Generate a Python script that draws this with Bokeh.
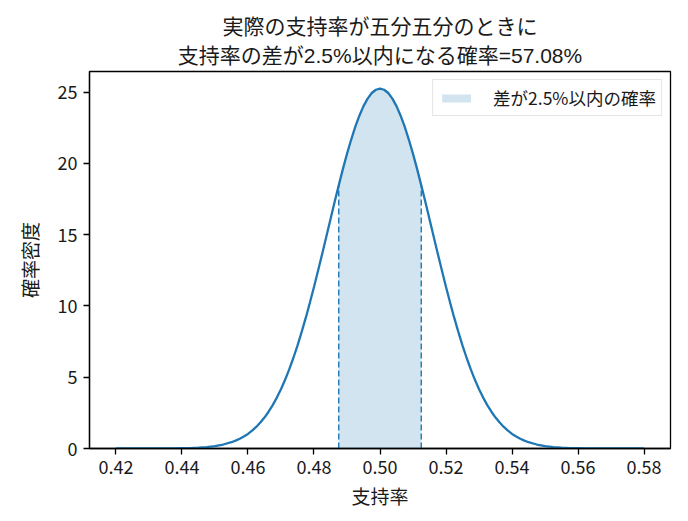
from bokeh.plotting import figure
from bokeh.models import Range1d, FixedTicker, Legend, LegendItem, CustomJSTickFormatter, Title
from bokeh.embed import file_html
from bokeh.resources import INLINE

# --- data ---
support = [0.4200, 0.4225, 0.4250, 0.4275, 0.4300, 0.4325, 0.4350, 0.4375, 0.4400, 0.4425,
           0.4450, 0.4475, 0.4500, 0.4525, 0.4550, 0.45625, 0.4575, 0.45875, 0.4600, 0.46125,
           0.4625, 0.46375, 0.4650, 0.46625, 0.4675, 0.46875, 0.4700, 0.47125, 0.4725, 0.47375,
           0.4750, 0.47625, 0.4775, 0.47875, 0.4800, 0.48125, 0.4825, 0.48375, 0.4850, 0.48625,
           0.4875, 0.48875, 0.4900, 0.49125, 0.4925, 0.49375, 0.4950, 0.49625, 0.4975, 0.49875,
           0.5000,
           0.50125, 0.5025, 0.50375, 0.5050, 0.50625, 0.5075, 0.50875, 0.5100, 0.51125, 0.5125,
           0.51375, 0.5150, 0.51625, 0.5175, 0.51875, 0.5200, 0.52125, 0.5225, 0.52375, 0.5250,
           0.52625, 0.5275, 0.52875, 0.5300, 0.53125, 0.5325, 0.53375, 0.5350, 0.53625, 0.5375,
           0.53875, 0.5400, 0.54125, 0.5425, 0.54375, 0.5450, 0.5475, 0.5500, 0.5525, 0.5550,
           0.5575, 0.5600, 0.5625, 0.5650, 0.5675, 0.5700, 0.5725, 0.5750, 0.5775, 0.5800]
density = [0.00, 0.00, 0.00, 0.00, 0.00, 0.00, 0.00, 0.01, 0.02, 0.03,
           0.06, 0.10, 0.17, 0.28, 0.44, 0.55, 0.68, 0.84, 1.02, 1.25,
           1.51, 1.82, 2.17, 2.58, 3.04, 3.57, 4.16, 4.82, 5.55, 6.35,
           7.22, 8.16, 9.16, 10.22, 11.33, 12.49, 13.67, 14.88, 16.09, 17.29,
           18.46, 19.60, 20.67, 21.66, 22.56, 23.35, 24.02, 24.55, 24.94, 25.17,
           25.25,
           25.17, 24.94, 24.55, 24.02, 23.35, 22.56, 21.66, 20.67, 19.60, 18.46,
           17.29, 16.09, 14.88, 13.67, 12.49, 11.33, 10.22, 9.16, 8.16, 7.22,
           6.35, 5.55, 4.82, 4.16, 3.57, 3.04, 2.58, 2.17, 1.82, 1.51,
           1.25, 1.02, 0.84, 0.68, 0.55, 0.44, 0.28, 0.17, 0.10, 0.06,
           0.03, 0.02, 0.01, 0.00, 0.00, 0.00, 0.00, 0.00, 0.00, 0.00]
band_lo = 0.4875
band_hi = 0.5125
x_ticks = [0.42, 0.44, 0.46, 0.48, 0.50, 0.52, 0.54, 0.56, 0.58]
y_ticks = [0, 5, 10, 15, 20, 25]
title_line1 = "実際の支持率が五分五分のときに"
title_line2 = "支持率の差が2.5%以内になる確率=57.08%"
x_label = "支持率"
y_label = "確率密度"
legend_label = "差が2.5%以内の確率"

FONT = "Noto Sans CJK JP"
TITLE_FONT = "'Liberation Sans', 'Noto Sans CJK JP'"
C0 = "#1f77b4"
TXT = "#1a1a1a"

p = figure(width=680, height=513, output_backend="svg", toolbar_location=None,
           x_range=Range1d(0.412, 0.588), y_range=Range1d(0, 26.45),
           min_border_left=89, min_border_right=10, min_border_top=71, min_border_bottom=65)

# two-line centred title (the later-added Title sits closer to the frame)
p.title.text = title_line1
p.title.text_font = TITLE_FONT
p.title.text_font_size = "21px"
p.title.text_font_style = "normal"
p.title.text_color = TXT
p.title.align = "center"
p.title.standoff = 0
p.add_layout(Title(text=title_line2, text_font=TITLE_FONT, text_font_size="21px",
                   text_font_style="normal", text_color=TXT, align="center",
                   standoff=9), "above")

p.grid.visible = False
p.outline_line_color = "black"
p.outline_line_width = 1.3

for ax in (p.xaxis[0], p.yaxis[0]):
    ax.axis_line_color = "black"
    ax.axis_line_width = 1.3
    ax.major_tick_in = 0
    ax.major_tick_out = 6
    ax.major_tick_line_width = 1.3
    ax.minor_tick_line_color = None
    ax.major_label_text_font = FONT
    ax.major_label_text_font_size = "18px"
    ax.major_label_text_color = TXT
    ax.axis_label_text_font = FONT
    ax.axis_label_text_font_size = "19px"
    ax.axis_label_text_font_style = "normal"
    ax.axis_label_text_color = TXT

p.xaxis.ticker = FixedTicker(ticks=x_ticks)
p.xaxis.formatter = CustomJSTickFormatter(code="return tick.toFixed(2);")
p.xaxis.axis_label = x_label
p.xaxis.major_label_standoff = 5
p.xaxis.axis_label_standoff = 5

p.yaxis.ticker = FixedTicker(ticks=y_ticks)
p.yaxis.axis_label = y_label
p.yaxis.major_label_standoff = 6
p.yaxis.axis_label_standoff = 12

# shaded band
bx = [x for x in support if band_lo - 1e-9 <= x <= band_hi + 1e-9]
by = [d for x, d in zip(support, density) if band_lo - 1e-9 <= x <= band_hi + 1e-9]
band = p.varea(x=bx, y1=[0] * len(bx), y2=by, fill_color=C0, fill_alpha=0.2)

# curve
p.line(support, density, line_color=C0, line_width=2.3)

# dashed bounds
p.segment(x0=[bx[0], bx[-1]], y0=[0, 0], x1=[bx[0], bx[-1]], y1=[by[0], by[-1]],
          line_color=C0, line_width=1.4, line_dash="6 3")

legend = Legend(items=[LegendItem(label=legend_label, renderers=[band])],
                location="top_right", margin=8, padding=5, spacing=0,
                glyph_width=36, glyph_height=10, label_height=20, label_standoff=19,
                label_text_font=FONT, label_text_font_size="17.5px", label_text_color=TXT,
                border_line_color="#cccccc", border_line_width=1,
                background_fill_color="white", background_fill_alpha=0.8)
p.add_layout(legend)

open("out.html", "w").write(file_html(p, INLINE))
